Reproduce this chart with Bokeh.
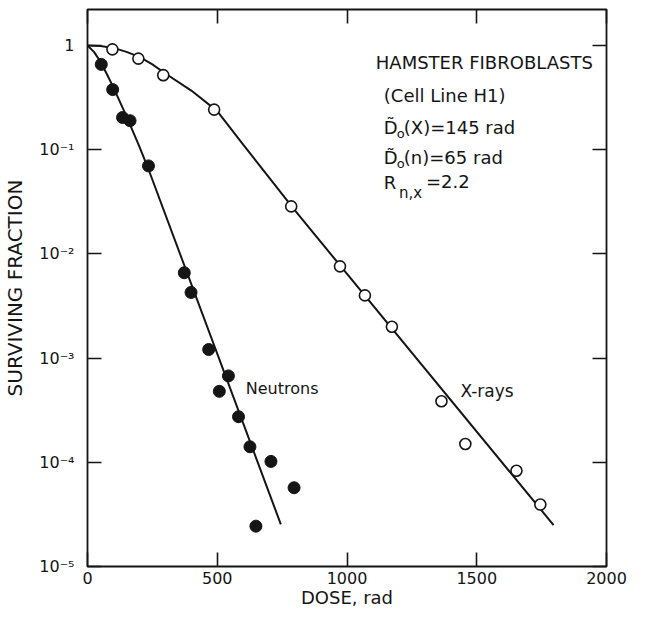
from bokeh.plotting import figure
from bokeh.models import (LogAxis, LinearAxis, FixedTicker, CustomJSTickFormatter,
                          Label, Range1d)
from bokeh.embed import file_html
from bokeh.resources import INLINE

# ---- data ----
xray_dose = [96, 196, 292, 488, 785, 973, 1069, 1173, 1364, 1456, 1653, 1745]
xray_sf = [0.92, 0.75, 0.52, 0.243, 0.0286, 0.0076, 0.0040, 0.0020,
           3.86e-4, 1.50e-4, 8.3e-5, 3.93e-5]

neutron_dose = [53, 97, 135, 164, 235, 373, 399, 467, 508, 543, 582, 626, 649, 707, 796]
neutron_sf = [0.66, 0.378, 0.204, 0.19, 0.070, 6.6e-3, 4.27e-3, 1.21e-3, 4.8e-4,
              6.75e-4, 2.74e-4, 1.41e-4, 2.44e-5, 1.02e-4, 5.7e-5]

# fitted curves as drawn
xray_fit_dose = [0, 50, 100, 150, 200, 250, 300, 400, 500, 600, 700, 800, 1796]
xray_fit_sf = [1.0, 0.99, 0.95, 0.87, 0.78, 0.66, 0.54, 0.37, 0.235, 0.112, 0.054, 0.026, 2.5e-5]

neutron_fit_dose = [0, 25, 50, 75, 100, 150, 200, 235, 745]
neutron_fit_sf = [1.0, 0.87, 0.70, 0.53, 0.395, 0.21, 0.107, 0.065, 2.54e-5]

x_ticks = [0, 500, 1000, 1500, 2000]
x_tick_labels = ["0", "500", "1000", "1500", "2000"]
y_ticks = [1, 1e-1, 1e-2, 1e-3, 1e-4, 1e-5]
y_tick_labels = ["1", "10⁻¹", "10⁻²", "10⁻³", "10⁻⁴", "10⁻⁵"]

INK = "#151515"
FONT = "DejaVu Sans"

p = figure(width=630, height=610, x_range=Range1d(0, 2000), y_range=Range1d(1e-5, 2.22),
           y_axis_type="log", output_backend="svg", toolbar_location=None,
           min_border_left=80, min_border_right=24, min_border_top=9, min_border_bottom=40,
           background_fill_color="white", border_fill_color="white")

p.xgrid.grid_line_color = None
p.ygrid.grid_line_color = None
p.outline_line_color = INK
p.outline_line_width = 1.8

lin_code = """
let best = 0, bd = Infinity;
for (let i = 0; i < tvals.length; i++) {
  const d = Math.abs(tvals[i] - tick);
  if (d < bd) { bd = d; best = i; }
}
return tlabels[best];
"""
log_code = """
let best = 0, bd = Infinity;
for (let i = 0; i < tvals.length; i++) {
  const d = Math.abs(Math.log10(tvals[i]) - Math.log10(tick));
  if (d < bd) { bd = d; best = i; }
}
return tlabels[best];
"""

xa = p.xaxis[0]
xa.ticker = FixedTicker(ticks=x_ticks)
xa.formatter = CustomJSTickFormatter(args=dict(tvals=x_ticks, tlabels=x_tick_labels), code=lin_code)
xa.major_label_standoff = 5
xa.axis_label = "DOSE, rad"
xa.axis_label_standoff = 0

ya = p.yaxis[0]
ya.ticker = FixedTicker(ticks=y_ticks)
ya.formatter = CustomJSTickFormatter(args=dict(tvals=y_ticks, tlabels=y_tick_labels), code=log_code)
ya.major_label_standoff = 13
ya.axis_label = "SURVIVING FRACTION"
ya.axis_label_standoff = 9

for ax in (xa, ya):
    ax.major_tick_in = 14
    ax.major_tick_out = 0
    ax.major_tick_line_width = 1.6
    ax.major_tick_line_color = INK
    ax.minor_tick_line_color = None
    ax.axis_line_color = None
    ax.major_label_text_font = FONT
    ax.major_label_text_font_size = "16px"
    ax.major_label_text_color = INK
    ax.axis_label_text_font = FONT
    ax.axis_label_text_font_style = "normal"
    ax.axis_label_text_color = INK
xa.axis_label_text_font_size = "18px"
ya.axis_label_text_font_size = "20px"

top = LinearAxis(ticker=FixedTicker(ticks=x_ticks),
                 formatter=CustomJSTickFormatter(code="return ''"))
right = LogAxis(ticker=FixedTicker(ticks=y_ticks),
                formatter=CustomJSTickFormatter(code="return ''"))
for ax in (top, right):
    ax.major_tick_in = 14
    ax.major_tick_out = 0
    ax.major_tick_line_width = 1.6
    ax.major_tick_line_color = INK
    ax.minor_tick_line_color = None
    ax.axis_line_color = None
    ax.major_label_standoff = 0
    ax.major_label_text_font_size = "0px"
p.add_layout(top, "above")
p.add_layout(right, "right")

# fitted curves
p.line(xray_fit_dose, xray_fit_sf, line_width=2, line_color=INK)
p.line(neutron_fit_dose, neutron_fit_sf, line_width=2, line_color=INK)

# data points
p.scatter(xray_dose, xray_sf, marker="circle", size=11, fill_color="white",
          line_color=INK, line_width=1.6)
p.scatter(neutron_dose, neutron_sf, marker="circle", size=12, fill_color=INK,
          line_color=INK, line_width=1)

def lab(x, y, text, size="18px"):
    p.add_layout(Label(x=x, y=y, text=text, text_font=FONT, text_font_size=size,
                       text_color=INK, text_baseline="middle", text_align="left"))

# annotation block
lab(1111, 0.69, "HAMSTER FIBROBLASTS")
lab(1142, 0.333, "(Cell Line H1)")
lab(1142, 0.165, "D\u0303")
lab(1192, 0.1446, "o", "13px")
lab(1219, 0.165, "(X)=145 rad")
lab(1142, 0.0835, "D\u0303")
lab(1192, 0.0732, "o", "13px")
lab(1219, 0.0835, "(n)=65 rad")
lab(1142, 0.0482, "R")
lab(1200, 0.0387, "n,x", "15px")
lab(1304, 0.0493, "=2.2")

# curve labels
lab(610, 5.1e-4, "Neutrons", "16px")
lab(1437, 4.89e-4, "X-rays", "17px")

open("out.html", "w").write(file_html(p, INLINE))
